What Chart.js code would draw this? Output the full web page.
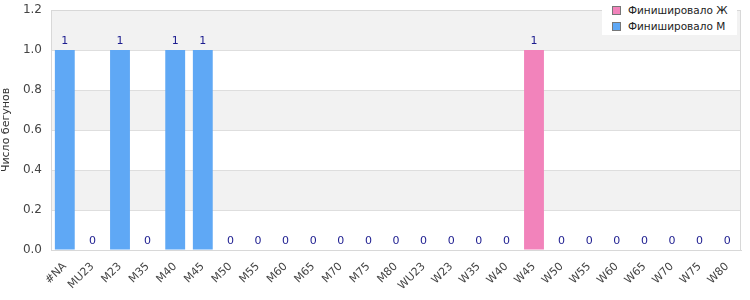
<!DOCTYPE html>
<html>
<head>
<meta charset="utf-8">
<script src="https://cdn.jsdelivr.net/npm/chart.js@4.4.1/dist/chart.umd.min.js"></script>
<style>
  html, body { margin: 0; padding: 0; background: #fff; }
  #wrap { position: relative; width: 750px; height: 300px; }
  #legend {
    position: absolute; left: 602px; top: 0px; width: 135px; height: 35px;
    background: #fff; font-family: "DejaVu Sans", sans-serif; font-size: 10.5px; color: #222;
  }
  #legend div { position: absolute; left: 10px; height: 14px; line-height: 14px; white-space: nowrap; }
  #legend span.box {
    display: inline-block; width: 7px; height: 7px; border: 1px solid #777;
    vertical-align: middle; margin-right: 7px; position: relative; top: -1px;
  }
</style>
</head>
<body>
<div id="wrap">
  <canvas id="chart" width="750" height="300"></canvas>
  <div id="legend"></div>
</div>
<script>
// ================= DATA =================
const categories = ["#NA", "MU23", "M23", "M35", "M40", "M45", "M50", "M55", "M60", "M65", "M70", "M75", "M80",
    "WU23", "W23", "W35", "W40", "W45", "W50", "W55", "W60", "W65", "W70", "W75", "W80"];
const finishedM = [1, 0, 1, 0, 1, 1, 0, 0, 0, 0, 0, 0, 0, 0, 0, 0, 0, 0, 0, 0, 0, 0, 0, 0, 0];
const finishedW = [0, 0, 0, 0, 0, 0, 0, 0, 0, 0, 0, 0, 0, 0, 0, 0, 0, 1, 0, 0, 0, 0, 0, 0, 0];
const yTicks = [0, 0.2, 0.4, 0.6, 0.8, 1.0, 1.2];

const blue = "#5fa8f5";
const pink = "#f283bb";
const font = "DejaVu Sans";

// ================= LEGEND (html) =================
const legendItems = [
    { label: "Финишировало Ж", color: pink },
    { label: "Финишировало М", color: blue }
];
const legend = document.getElementById("legend");
legendItems.forEach((item, i) => {
    legend.innerHTML += `<div style="top:${3 + i * 16}px"><span class="box" style="background:${item.color}"></span>${item.label}</div>`;
});

// ================= PLUGINS =================
const bandsPlugin = {
    id: "bands",
    beforeDraw(chart) {
        const { ctx, chartArea: a, scales: { y } } = chart;
        ctx.save();
        for (let i = 0; i < yTicks.length - 1; i++) {
            const top = y.getPixelForValue(yTicks[i + 1]);
            const bot = y.getPixelForValue(yTicks[i]);
            ctx.fillStyle = (i % 2 === 1) ? "#f2f2f2" : "#ffffff";
            ctx.fillRect(a.left, top, a.right - a.left, bot - top);
        }
        ctx.restore();
    },
    afterDatasetsDraw(chart) {
        const { ctx, chartArea: a, scales: { x, y } } = chart;
        ctx.save();
        ctx.strokeStyle = "#d8d8d8";
        ctx.lineWidth = 1;
        ctx.strokeRect(a.left + 0.5, a.top + 0.5, a.right - a.left - 1, a.bottom - a.top);
        // totals above bars
        ctx.fillStyle = "#1c1c8f";
        ctx.font = "11px '" + font + "'";
        ctx.textAlign = "center";
        ctx.textBaseline = "bottom";
        categories.forEach((c, i) => {
            const total = finishedM[i] + finishedW[i];
            ctx.fillText(String(total), x.getPixelForValue(i), y.getPixelForValue(total) - 3);
        });
        ctx.restore();
    }
};

// ================= CHART =================
new Chart(document.getElementById("chart"), {
    type: "bar",
    data: {
        labels: categories,
        datasets: [
            { label: "Финишировало М", data: finishedM, backgroundColor: blue },
            { label: "Финишировало Ж", data: finishedW, backgroundColor: pink }
        ]
    },
    options: {
        responsive: false,
        animation: false,
        layout: { padding: { top: 10, right: 9, left: 0, bottom: 0 } },
        datasets: { bar: { categoryPercentage: 1, barPercentage: 0.72 } },
        plugins: {
            legend: { display: false },
            tooltip: { enabled: false }
        },
        scales: {
            x: {
                stacked: true,
                grid: { display: false },
                border: { color: "#d8d8d8" },
                ticks: {
                    color: "#444",
                    font: { family: font, size: 11 },
                    minRotation: 45, maxRotation: 45,
                    autoSkip: false, padding: 2
                },
                afterFit(scale) { scale.height = 50; scale.paddingLeft = 0; scale.paddingRight = 0; }
            },
            y: {
                stacked: true,
                min: 0, max: 1.2,
                grid: { color: "#dedede", drawTicks: false },
                border: { display: false },
                ticks: {
                    stepSize: 0.2,
                    color: "#444",
                    padding: 9,
                    font: { family: font, size: 12 },
                    callback: v => v.toFixed(1)
                },
                title: {
                    display: true,
                    text: "Число бегунов",
                    color: "#333",
                    font: { family: font, size: 11 },
                    padding: { top: 0, bottom: 4 }
                },
                afterFit(scale) { scale.width = 51; scale.paddingTop = 0; scale.paddingBottom = 0; }
            }
        }
    },
    plugins: [bandsPlugin]
});
</script>
</body>
</html>
